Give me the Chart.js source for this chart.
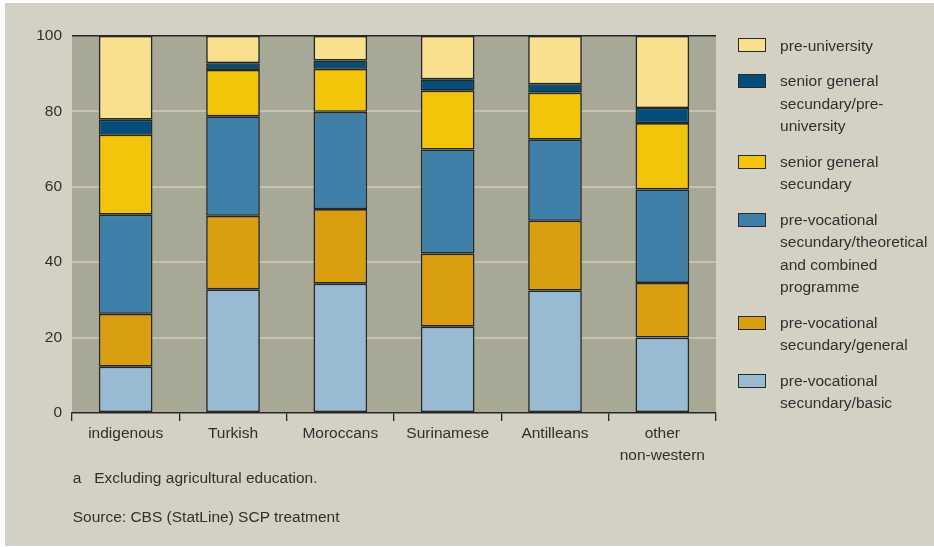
<!DOCTYPE html>
<html>
<head>
<meta charset="utf-8">
<script src="https://cdn.jsdelivr.net/npm/chart.js@4.4.1/dist/chart.umd.min.js"></script>
<style>
  html, body { margin: 0; padding: 0; background: #fff; }
  body { width: 934px; height: 547px; position: relative; overflow: hidden;
         font-family: 'Liberation Sans', Arial, sans-serif; color: #2f2f2f; }
  #panel { position: absolute; left: 5px; top: 3px; right: 0; bottom: 1px; background: #d3d1c3; }
  #wrap { position: absolute; left: 0; top: 0; width: 934px; height: 547px; }
  #legend { position: absolute; left: 738px; top: 34.5px; font-size: 15.5px; }
  .item { display: flex; margin-bottom: 13.6px; line-height: 22.3px; }
  .box { width: 25.5px; height: 12px; border: 1px solid #2a2a2a; margin-top: 3.8px; flex: none; }
  .txt { margin-left: 14.6px; white-space: pre-line; }
  .note { position: absolute; left: 72.7px; font-size: 15.5px; line-height: 22px; }
  .note .a { display: inline-block; width: 21.6px; }
</style>
</head>
<body>
<div id="panel"></div>
<div id="wrap"><canvas id="myChart" width="934" height="547"></canvas></div>
<div id="legend"></div>
<div class="note" style="top:467px"><span class="a">a</span>Excluding agricultural education.</div>
<div class="note" style="top:506px">Source: CBS (StatLine) SCP treatment</div>
<script>
const categories = ['indigenous', 'Turkish', 'Moroccans', 'Surinamese', 'Antilleans', ['other', 'non-western']];

// stacked bottom to top (percentages)
const basic         = [12.3, 32.8, 34.3, 22.9, 32.5, 20.0];
const general       = [14.0, 19.5, 19.8, 19.4, 18.5, 14.5];
const theoretical   = [26.3, 26.4, 25.8, 27.6, 21.5, 24.8];
const seniorGeneral = [21.2, 12.3, 11.4, 15.6, 12.5, 17.6];
const seniorPreUniv = [4.0, 1.8, 2.2, 3.0, 2.2, 4.0];
const preUniv       = [22.2, 7.2, 6.5, 11.5, 12.8, 19.1];

const seriesNames = [
    'pre-vocational\nsecundary/basic',
    'pre-vocational\nsecundary/general',
    'pre-vocational\nsecundary/theoretical\nand combined\nprogramme',
    'senior general\nsecundary',
    'senior general\nsecundary/pre-\nuniversity',
    'pre-university'
];
const seriesColors = ['#98bad2', '#d99f10', '#3f80a8', '#f2c40a', '#034d7a', '#f9e08f'];
const yTicks = [0, 20, 40, 60, 80, 100];

const fontFamily = "'Liberation Sans', Arial, sans-serif";
const textColor = '#2f2f2f';
const lineColor = '#262626';

const plotBg = {
    id: 'plotBg',
    beforeDraw(chart) {
        const { ctx, chartArea: a } = chart;
        ctx.save();
        ctx.fillStyle = '#a7a896';
        ctx.fillRect(a.left, a.top, a.right - a.left, a.bottom - a.top);
        ctx.restore();
    }
};

const values = [basic, general, theoretical, seniorGeneral, seniorPreUniv, preUniv];

var ctx = document.getElementById('myChart');
const chart = new Chart(ctx, {
    type: 'bar',
    data: {
        labels: categories,
        datasets: values.map((v, i) => ({
            label: seriesNames[i],
            data: v,
            backgroundColor: seriesColors[i],
            borderColor: lineColor,
            borderWidth: 1.6,
            borderSkipped: false,
            categoryPercentage: 1,
            barPercentage: 0.5
        }))
    },
    options: {
        responsive: false,
        animation: false,
        devicePixelRatio: 1,
        layout: { padding: { left: 0, right: 218, top: 36, bottom: 0 } },
        plugins: {
            legend: { display: false },
            tooltip: { enabled: false }
        },
        scales: {
            x: {
                stacked: true,
                grid: { offset: true, drawOnChartArea: false, drawTicks: true, tickLength: 8, color: lineColor, lineWidth: 1.3 },
                border: { display: true, color: lineColor, width: 1.5 },
                ticks: { color: textColor, font: { family: fontFamily, size: 15.5, lineHeight: 1.4 }, padding: 2, maxRotation: 0, autoSkip: false },
                afterFit: s => { s.height = 134; }
            },
            y: {
                stacked: true,
                min: 0,
                max: 100,
                afterBuildTicks: s => { s.ticks = yTicks.map(v => ({ value: v })); },
                grid: {
                    drawTicks: false,
                    color: c => c.tick.value === 100 ? lineColor : (c.tick.value === 0 ? 'rgba(0,0,0,0)' : '#c6c4b0'),
                    lineWidth: c => c.tick.value === 100 ? 1.5 : 2
                },
                border: { display: false },
                ticks: { color: textColor, font: { family: fontFamily, size: 15.5 }, padding: 10 },
                afterFit: s => { s.width = 72; }
            }
        }
    },
    plugins: [plotBg]
});

// legend, top to bottom = reverse of stacking order
const legend = document.getElementById('legend');
chart.data.datasets.slice().reverse().forEach(ds => {
    const item = document.createElement('div');
    item.className = 'item';
    const box = document.createElement('div');
    box.className = 'box';
    box.style.background = ds.backgroundColor;
    const txt = document.createElement('div');
    txt.className = 'txt';
    txt.textContent = ds.label;
    item.appendChild(box);
    item.appendChild(txt);
    legend.appendChild(item);
});
</script>
</body>
</html>
